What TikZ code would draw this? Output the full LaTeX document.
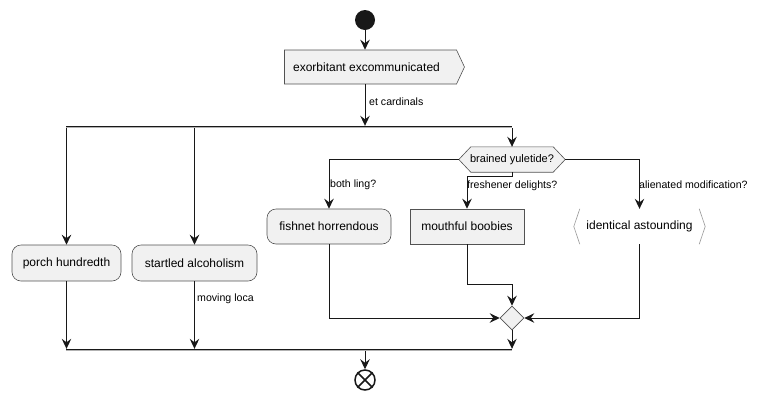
\documentclass[tikz,border=0pt]{standalone}
\usepackage{fontspec}
\setmainfont{Liberation Sans}
\usetikzlibrary{arrows.meta,shapes.geometric,shapes.symbols,backgrounds}
\definecolor{boxfill}{HTML}{F1F1F1}
\definecolor{ink}{HTML}{181818}
\begin{document}
\begin{tikzpicture}[x=1pt,y=-1pt,
  arr/.style={draw=ink,line width=0.9pt,-{Stealth[length=10pt,width=9.5pt,inset=3.5pt]}},
  act/.style={draw=ink!75,line width=0.6pt,fill=boxfill,rounded corners=9pt,minimum height=36pt,inner xsep=8pt,font=\fontsize{12}{14}\selectfont},
  sqact/.style={draw=ink!75,line width=0.6pt,fill=boxfill,minimum height=35pt,font=\fontsize{12}{14}\selectfont},
  bar/.style={fill=ink,draw=none,minimum height=2pt,inner sep=0pt},
  barshade/.style={draw=black!30,line width=1pt},
  lbl/.style={font=\fontsize{10.6}{12}\selectfont,anchor=west,inner sep=0pt}]
\useasboundingbox (0,0) rectangle (759,400);

% start
\node[circle,fill=ink,minimum size=20pt,inner sep=0pt] (start) at (365,20) {};
% signal box
\node[signal,signal to=east,signal pointer angle=130,draw=ink!75,line width=0.6pt,fill=boxfill,
  minimum width=180pt,minimum height=34pt,inner sep=0pt,font=\fontsize{12}{14}\selectfont] (ex) at (370.5,67) {\hspace*{-8pt}exorbitant excommunicated};
\node[lbl] (l1) at (369,102) {et cardinals};

% fork bar
\node[bar,minimum width=446pt] (fork) at (289,127) {};
\draw[barshade] ([yshift=0.5pt]fork.south west) -- ([yshift=0.5pt]fork.south east);

% branches
\node[act,minimum width=109pt] (porch) at (66.5,263) {porch hundredth};
\node[act,minimum width=125pt] (startled) at (194.5,263) {startled alcoholism};
\node[lbl] (l2) at (197,299) {moving loca};

% hexagon
\node[minimum width=106pt,minimum height=25pt,inner sep=0pt,font=\fontsize{11}{13}\selectfont] (by) at (512,159.5) {brained yuletide?};
\begin{scope}[on background layer]
\filldraw[draw=ink!75,line width=0.6pt,fill=boxfill] (by.west) -- ([xshift=12pt]by.north west) -- ([xshift=-12pt]by.north east) -- (by.east) -- ([xshift=-12pt]by.south east) -- ([xshift=12pt]by.south west) -- cycle;
\end{scope}

\node[act,minimum width=124pt,minimum height=35pt] (fish) at (329,226.5) {fishnet horrendous};
\node[sqact,minimum width=114pt] (mouth) at (467,226.5) {mouthful boobies};
\node[minimum width=131pt,minimum height=35pt,inner sep=0pt,font=\fontsize{12}{14}\selectfont] (ident) at (639.5,226.5) {identical astounding};
\draw[draw=ink!45,line width=0.6pt] ([xshift=6pt]ident.north west) -- (ident.west) -- ([xshift=6pt]ident.south west);
\draw[draw=ink!45,line width=0.6pt] ([xshift=-6pt]ident.north east) -- (ident.east) -- ([xshift=-6pt]ident.south east);

\node[lbl] (l3) at (330,185) {both ling?};
\node[lbl] (l4) at (467,186) {freshener delights?};
\node[lbl] (l5) at (639,185) {alienated modification?};

% merge diamond
\node[diamond,aspect=1,draw=ink!75,line width=0.6pt,fill=boxfill,minimum width=24pt,minimum height=24pt,inner sep=0pt] (merge) at (512,318) {};

% join bar
\node[bar,minimum width=446pt] (join) at (289,350) {};
\draw[barshade] ([yshift=0.5pt]join.south west) -- ([yshift=0.5pt]join.south east);

% end
\node[circle,draw=ink,line width=1.5pt,fill=white,minimum size=20pt,inner sep=0pt] (end) at (365,380) {};
\draw[ink,line width=1.5pt] (end.45) -- (end.225) (end.135) -- (end.315);

% connectors
\draw[arr] (start) -- (start |- ex.north);
\draw[arr] (start |- ex.south) -- (start |- fork.north);
\draw[arr] (porch |- fork.south) -- (porch.north);
\draw[arr] (startled |- fork.south) -- (startled.north);
\draw[arr] (by |- fork.south) -- (by.north);
\draw[arr] (by.west) -| (fish.north);
\draw[arr] (by.south) -- ++(0,4) -| (mouth.north);
\draw[arr] (by.east) -| (ident.north);
\draw[arr] (fish.south) |- (merge.west);
\draw[arr] (mouth.south) -- ++(0,40) -| (merge.north);
\draw[arr] (ident.south) |- (merge.east);
\draw[arr] (porch.south) -- (porch |- join.north);
\draw[arr] (startled.south) -- (startled |- join.north);
\draw[arr] (merge.south) -- (merge |- join.north);
\draw[arr] (end |- join.south) -- (end.north);
\end{tikzpicture}
\end{document}
